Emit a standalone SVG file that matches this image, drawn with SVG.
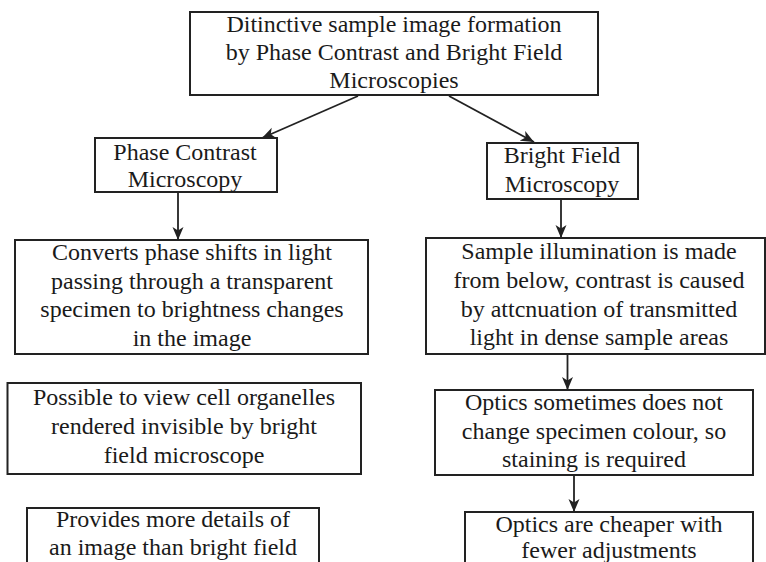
<svg xmlns="http://www.w3.org/2000/svg" width="766" height="562" viewBox="0 0 766 562">
<style>
.box{fill:#fff;stroke:#222;stroke-width:2}
.t{font-size:24px;fill:#1a1a1a;text-anchor:middle}
.c{stroke:#222;stroke-width:1.8;fill:none;marker-end:url(#ah)}
</style>
<defs>
<marker id="ah" markerUnits="userSpaceOnUse" markerWidth="14" markerHeight="12" refX="13" refY="5.5" orient="auto" viewBox="0 0 14 11">
<path d="M0,0 L13,5.5 L0,11 L3.5,5.5 z" fill="#222"/>
</marker>
</defs>
<rect width="766" height="562" fill="#fff"/>
<g id="connectors">
<line class="c" x1="358" y1="96" x2="262" y2="138"/>
<line class="c" x1="449" y1="96" x2="534" y2="142"/>
<line class="c" x1="178" y1="192" x2="178" y2="240"/>
<line class="c" x1="561" y1="199" x2="561" y2="238"/>
<line class="c" x1="567.5" y1="354" x2="567.5" y2="390"/>
<line class="c" x1="574" y1="475" x2="574" y2="512"/>
</g>
<g font-family="Liberation Serif, Times New Roman, serif">
<g id="top">
<rect class="box" x="190" y="12" width="408" height="83"/>
<text class="t" x="394" y="32">Ditinctive sample image formation</text>
<text class="t" x="394" y="60">by Phase Contrast and Bright Field</text>
<text class="t" x="394" y="88">Microscopies</text>
</g>
<g id="phase">
<rect class="box" x="95" y="138" width="182" height="54"/>
<text class="t" x="185" y="160">Phase Contrast</text>
<text class="t" x="185" y="187">Microscopy</text>
</g>
<g id="bright">
<rect class="box" x="487" y="143" width="151" height="56"/>
<text class="t" x="562" y="163">Bright Field</text>
<text class="t" x="562" y="192">Microscopy</text>
</g>
<g id="converts">
<rect class="box" x="15" y="240" width="353" height="114"/>
<text class="t" x="192" y="260">Converts phase shifts in light</text>
<text class="t" x="192" y="288.5">passing through a transparent</text>
<text class="t" x="192" y="317">specimen to brightness changes</text>
<text class="t" x="192" y="345.5">in the image</text>
</g>
<g id="possible">
<rect class="box" x="7.5" y="383" width="353.5" height="91"/>
<text class="t" x="184" y="405">Possible to view cell organelles</text>
<text class="t" x="184" y="434">rendered invisible by bright</text>
<text class="t" x="184" y="463">field microscope</text>
</g>
<g id="provides">
<rect class="box" x="27" y="508" width="292" height="80"/>
<text class="t" x="173" y="527">Provides more details of</text>
<text class="t" x="173" y="555">an image than bright field</text>
</g>
<g id="sample">
<rect class="box" x="426" y="238" width="339" height="116"/>
<text class="t" x="599" y="259">Sample illumination is made</text>
<text class="t" x="599" y="288">from below, contrast is caused</text>
<text class="t" x="599" y="317">by attcnuation of transmitted</text>
<text class="t" x="599" y="345">light in dense sample areas</text>
</g>
<g id="optics">
<rect class="box" x="435" y="390" width="318" height="85"/>
<text class="t" x="594" y="410">Optics sometimes does not</text>
<text class="t" x="594" y="438.5">change specimen colour, so</text>
<text class="t" x="594" y="467">staining is required</text>
</g>
<g id="cheaper">
<rect class="box" x="465" y="512" width="288" height="80"/>
<text class="t" x="609" y="532">Optics are cheaper with</text>
<text class="t" x="609" y="558">fewer adjustments</text>
</g>
</g>
</svg>
